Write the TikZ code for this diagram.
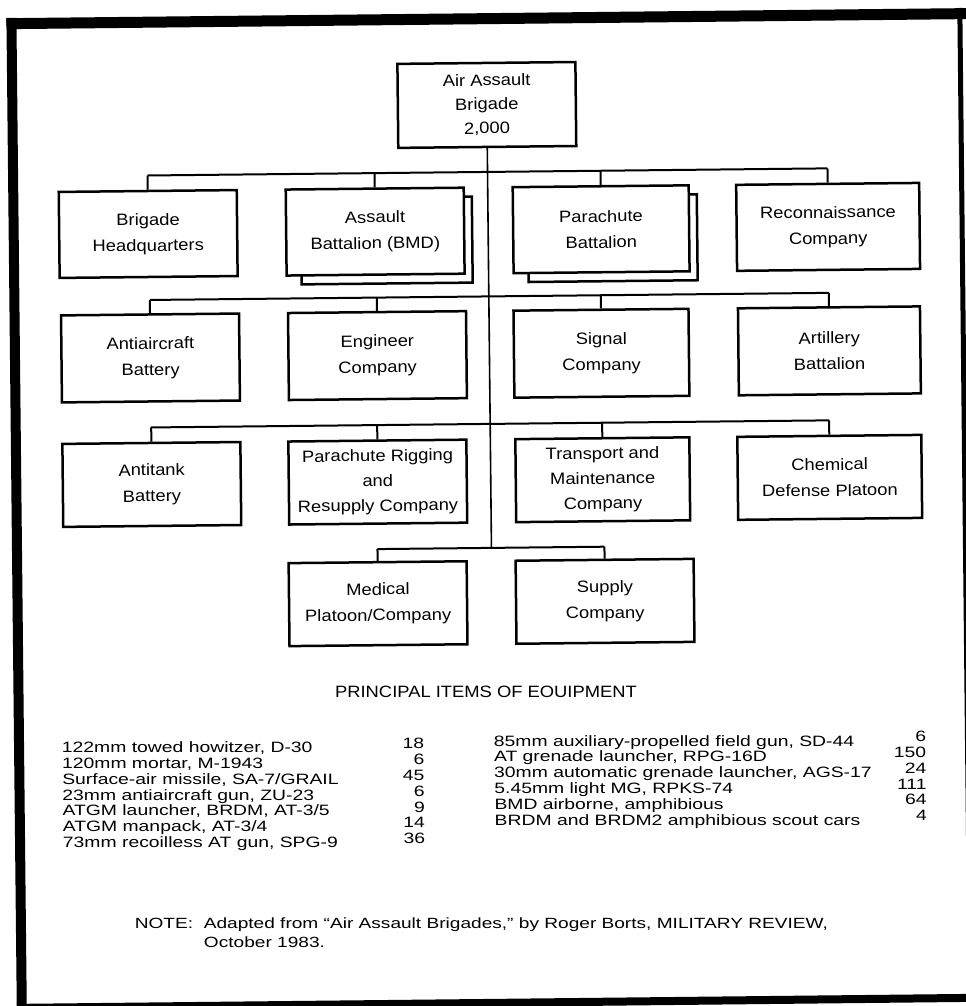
\documentclass[tikz,border=0pt]{standalone}
\usepackage{fontspec}
\setmainfont{Liberation Sans}[FakeStretch=1.12]
\newfontfamily\tabfont{Liberation Sans}[FakeStretch=1.29]
\begin{document}
\begin{tikzpicture}[x=0.5pt,y=-0.5pt]
\tikzset{
  box/.style={draw, line width=1.25pt, fill=white, align=center, inner sep=0pt, transform shape,
    minimum width=89pt, minimum height=43pt, font=\fontsize{8.2}{13}\selectfont},
  shadowbox/.style={draw, line width=1.25pt, fill=white, inner sep=0pt, transform shape, minimum height=43pt},
  conn/.style={line width=1pt},
  cline/.style={line width=0.8pt},
  item/.style={anchor=mid west, inner sep=0pt, font=\tabfont\fontsize{7.5}{9}\selectfont},
  num/.style={anchor=mid east, inner sep=0pt, font=\tabfont\fontsize{7.5}{9}\selectfont},
  notetext/.style={anchor=mid west, inner sep=0pt, font=\tabfont\fontsize{7.4}{9}\selectfont},
  head/.style={anchor=mid, inner sep=0pt, font=\fontsize{8.2}{10}\selectfont},
  frameline/.style={line cap=butt},
}
\useasboundingbox (0,0) rectangle (965,1006);
\fill[white] (0,0) rectangle (965,1006);
\begin{scope}[rotate around={0.6:(482,503)}]
% frame
\draw[frameline, line width=5pt] (16.5,13) -- (16.5,1015);
\draw[frameline, line width=5.5pt] (11.5,18.7) -- (980,18.7);
\draw[frameline, line width=2.5pt] (965,13) -- (965,1015);
\draw[frameline, line width=4pt] (11.5,1003) -- (980,1003);

% top
\node[box, minimum height=42pt, font=\fontsize{8.2}{12}\selectfont] (top) at (491,105) {Air Assault\\Brigade\\2,000};

% row 1
\node[shadowbox, minimum width=85.5pt] (assaultsh) at (389.5,239.5) {};
\node[shadowbox, minimum width=84.5pt] (parash) at (615.5,239.5) {};
\node[box] (bhq) at (151,230.5) {Brigade\\Headquarters};
\node[box] (assault) at (378,230.5) {Assault\\Battalion (BMD)};
\node[box, minimum width=88pt] (para) at (604,230.5) {Parachute\\Battalion};
\node[box, minimum width=91.5pt] (recon) at (831,230.5) {Reconnaissance\\Company};

% row 2
\node[box, minimum height=43.5pt] (aa) at (152,354.5) {Antiaircraft\\Battery};
\node[box, minimum height=43.5pt] (eng) at (379,354.5) {Engineer\\Company};
\node[box, minimum height=43.5pt, minimum width=87.5pt] (signal) at (603,354.5) {Signal\\Company};
\node[box, minimum height=43.5pt, minimum width=91pt] (art) at (831,354.5) {Artillery\\Battalion};

% row 3
\node[box, minimum height=41.5pt] (at) at (152,481) {Antitank\\Battery};
\node[box, minimum height=41.5pt, font=\fontsize{8.2}{12.5}\selectfont] (rig) at (378,481) {Parachute Rigging\\and\\Resupply Company};
\node[box, minimum height=41.5pt, minimum width=87pt, font=\fontsize{8.2}{12.5}\selectfont] (trans) at (603,481) {Transport and\\Maintenance\\Company};
\node[box, minimum height=41.5pt, minimum width=92pt] (chem) at (830,481) {Chemical\\Defense Platoon};

% row 4
\node[box, minimum height=41.5pt] (med) at (377,602.6) {Medical\\Platoon/Company};
\node[box, minimum height=41.5pt] (supply) at (604,602.6) {Supply\\Company};

% bus coordinates
\coordinate (b1a) at (151,172);
\coordinate (b1b) at (378,172);
\coordinate (b1c) at (604,172);
\coordinate (b1d) at (831,172);
\coordinate (b2a) at (152,296.5);
\coordinate (b2b) at (379,296.5);
\coordinate (b2c) at (603,296.5);
\coordinate (b2d) at (831,296.5);
\coordinate (b3a) at (152,424);
\coordinate (b3b) at (378,424);
\coordinate (b3c) at (603,424);
\coordinate (b3d) at (830,424);
\coordinate (b4a) at (377,548);
\coordinate (b4b) at (604,548);
\coordinate (b4c) at (491,548);

% connectors
\draw[cline] (top.south) -- (b4c);
\draw[conn] (b1a) -- (b1d);
\draw[conn] (b1a) -- (bhq.north);
\draw[conn] (b1b) -- (assault.north);
\draw[conn] (b1c) -- (para.north);
\draw[conn] (b1d) -- (recon.north);
\draw[conn] (b2a) -- (b2d);
\draw[conn] (b2a) -- (aa.north);
\draw[conn] (b2b) -- (eng.north);
\draw[conn] (b2c) -- (signal.north);
\draw[conn] (b2d) -- (art.north);
\draw[conn] (b3a) -- (b3d);
\draw[conn] (b3a) -- (at.north);
\draw[conn] (b3b) -- (rig.north);
\draw[conn] (b3c) -- (trans.north);
\draw[conn] (b3d) -- (chem.north);
\draw[conn] (b4a) -- (b4b);
\draw[conn] (b4a) -- (med.north);
\draw[conn] (b4b) -- (supply.north);

% heading
\node[head] (heading) at (484,692) {PRINCIPAL ITEMS OF EOUIPMENT};

% left column
\node[item] (l1) at (59,743) {122mm towed howitzer, D-30};
\node[item] (l2) at (59,758.8) {120mm mortar, M-1943};
\node[item] (l3) at (59,774.6) {Surface-air missile, SA-7/GRAIL};
\node[item] (l4) at (59,790.4) {23mm antiaircraft gun, ZU-23};
\node[item] (l5) at (59,806.2) {ATGM launcher, BRDM, AT-3/5};
\node[item] (l6) at (59,822) {ATGM manpack, AT-3/4};
\node[item] (l7) at (59,837.8) {73mm recoilless AT gun, SPG-9};
\node[num] (n1) at (422,743) {18};
\node[num] (n2) at (422,758.8) {6};
\node[num] (n3) at (422,774.6) {45};
\node[num] (n4) at (422,790.4) {6};
\node[num] (n5) at (422,806.2) {9};
\node[num] (n6) at (422,822) {14};
\node[num] (n7) at (422,837.8) {36};

% right column
\node[item] (r1) at (491,741) {85mm auxiliary-propelled field gun, SD-44};
\node[item] (r2) at (491,756.8) {AT grenade launcher, RPG-16D};
\node[item] (r3) at (491,772.6) {30mm automatic grenade launcher, AGS-17};
\node[item] (r4) at (491,788.4) {5.45mm light MG, RPKS-74};
\node[item] (r5) at (491,804.2) {BMD airborne, amphibious};
\node[item] (r6) at (491,820) {BRDM and BRDM2 amphibious scout cars};
\node[num] (m1) at (924,741) {6};
\node[num] (m2) at (924,756.8) {150};
\node[num] (m3) at (924,772.6) {24};
\node[num] (m4) at (924,788.4) {111};
\node[num] (m5) at (924,804.2) {64};
\node[num] (m6) at (924,820) {4};

% note
\node[notetext] (note) at (130,920) {NOTE:};
\node[notetext] (note1) at (199,920) {Adapted from “Air Assault Brigades,” by Roger Borts, MILITARY REVIEW,};
\node[notetext] (note2) at (199,939) {October 1983.};
\end{scope}
\end{tikzpicture}
\end{document}
